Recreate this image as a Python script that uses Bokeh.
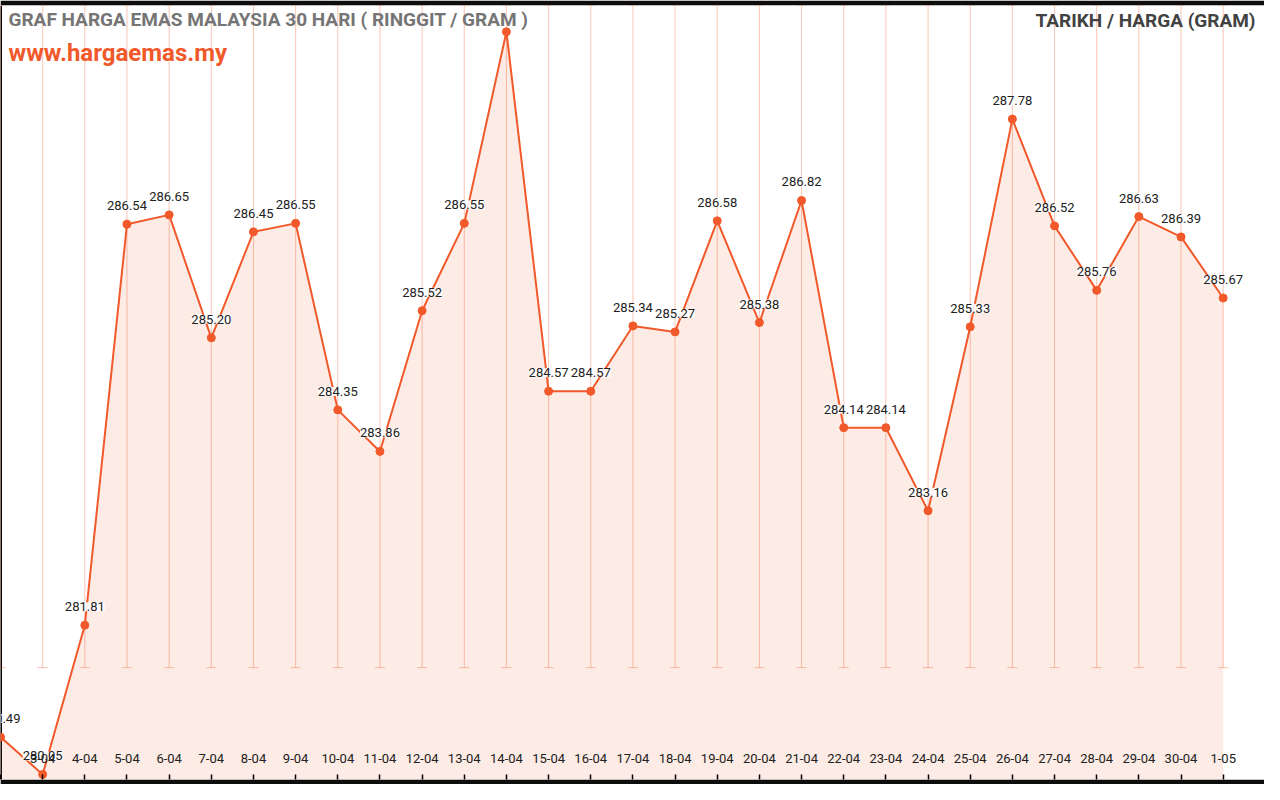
from bokeh.plotting import figure
from bokeh.models import Range1d, FixedTicker, Whisker, TeeHead, ColumnDataSource, Label, Span
from bokeh.core.properties import value
from bokeh.embed import file_html
from bokeh.resources import INLINE

# ---- data ----
dates = ["2-04", "3-04", "4-04", "5-04", "6-04", "7-04", "8-04", "9-04", "10-04", "11-04",
         "12-04", "13-04", "14-04", "15-04", "16-04", "17-04", "18-04", "19-04", "20-04", "21-04",
         "22-04", "23-04", "24-04", "25-04", "26-04", "27-04", "28-04", "29-04", "30-04", "1-05"]
prices = [280.49, 280.05, 281.81, 286.54, 286.65, 285.20, 286.45, 286.55, 284.35, 283.86,
          285.52, 286.55, 288.81, 284.57, 284.57, 285.34, 285.27, 286.58, 285.38, 286.82,
          284.14, 284.14, 283.16, 285.33, 287.78, 286.52, 285.76, 286.63, 286.39, 285.67]
# value labels as shown (the 14-04 label falls outside the visible chart)
price_labels = ["280.49", "280.05", "281.81", "286.54", "286.65", "285.20", "286.45", "286.55", "284.35", "283.86",
                "285.52", "286.55", "", "284.57", "284.57", "285.34", "285.27", "286.58", "285.38", "286.82",
                "284.14", "284.14", "283.16", "285.33", "287.78", "286.52", "285.76", "286.63", "286.39", "285.67"]
# x tick labels as shown (first one falls off the left edge)
tick_labels = [""] + dates[1:]

Y_MIN, Y_MAX = 279.99, 289.12
GRID_BOTTOM = 281.31

idx = list(range(len(dates)))
src = ColumnDataSource(dict(x=idx, price=prices, label=price_labels,
                            lo=[GRID_BOTTOM] * len(idx), hi=[Y_MAX] * len(idx),
                            base=[Y_MIN - 2] * len(idx)))

ORANGE = "#f1592a"

p = figure(width=1264, height=784, x_range=Range1d(0, 29.98), y_range=Range1d(Y_MIN, Y_MAX),
           output_backend="svg", toolbar_location=None, y_axis_location=None,
           min_border_left=0, min_border_right=0, min_border_top=5, min_border_bottom=5,
           border_fill_color="#0d0d0d", background_fill_color="white", outline_line_color=None)
p.xgrid.visible = False
p.ygrid.visible = False

# left axis line
p.add_layout(Span(location=0, dimension="height", line_color="black", line_width=3, level="underlay"))

# vertical grid lines with caps
wh = Whisker(source=src, base="x", lower="lo", upper="hi", dimension="height",
             line_color=ORANGE, line_alpha=0.35, line_width=1, level="underlay",
             lower_head=TeeHead(size=10, line_color=ORANGE, line_alpha=0.35, line_width=1),
             upper_head=TeeHead(size=10, line_color=ORANGE, line_alpha=0.35, line_width=1))
p.add_layout(wh)

# area + line + points
p.varea(x="x", y1="base", y2="price", source=src, fill_color=ORANGE, fill_alpha=0.12)
p.line(x="x", y="price", source=src, line_color=ORANGE, line_width=2)
p.scatter(x="x", y="price", source=src, size=8, fill_color=ORANGE, line_color=ORANGE)

# value labels
p.text(x="x", y="price", text="label", source=src, text_align="center", text_baseline="middle",
       y_offset=-18.5, text_font_size="13px", text_color="#212121", text_font=value("Roboto"),
       background_fill_color="white", background_fill_alpha=0.9)

# x axis with labels inside the plot
ax = p.xaxis[0]
ax.ticker = FixedTicker(ticks=idx)
ax.major_label_overrides = {i: t for i, t in zip(idx, tick_labels)}
ax.axis_line_color = None
ax.major_tick_in = 5
ax.major_tick_out = 0
ax.major_tick_line_color = "black"
ax.major_tick_line_width = 1.5
ax.minor_tick_line_color = None
ax.major_label_standoff = -26
ax.major_label_text_font = "Roboto"
ax.major_label_text_font_size = "13px"
ax.major_label_text_color = "#212121"

# titles
p.add_layout(Label(x=8, y=760.5, x_units="screen", y_units="screen",
                   text="GRAF HARGA EMAS MALAYSIA 30 HARI ( RINGGIT / GRAM )",
                   text_font="Roboto", text_font_style="bold", text_font_size="19px",
                   text_color="#757575", text_baseline="middle"))
p.add_layout(Label(x=8, y=727, x_units="screen", y_units="screen",
                   text="www.hargaemas.my",
                   text_font="Roboto", text_font_style="bold", text_font_size="24px",
                   text_color=ORANGE, text_baseline="middle"))
p.add_layout(Label(x=1255, y=759.5, x_units="screen", y_units="screen",
                   text="TARIKH / HARGA (GRAM)", text_align="right",
                   text_font="Roboto", text_font_style="bold", text_font_size="19px",
                   text_color="#424242", text_baseline="middle"))

open("out.html", "w").write(file_html(p, INLINE))
